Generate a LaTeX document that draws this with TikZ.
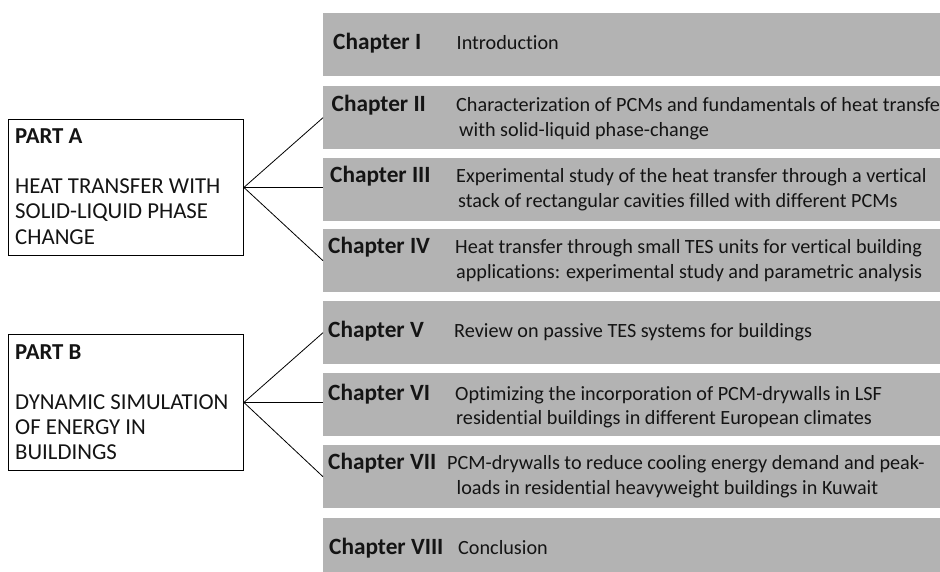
\documentclass[tikz,border=0pt]{standalone}
\usepackage{fontspec}
\setmainfont[Ligatures=NoCommon]{Carlito}
\definecolor{barfill}{RGB}{179,179,179}
\definecolor{inkdark}{RGB}{20,20,20}
\begin{document}
\begin{tikzpicture}[x=1pt,y=-1pt,
  bar/.style={fill=barfill, draw=none, inner sep=0pt, minimum width=630pt,
    minimum height=63pt, anchor=north west},
  partbox/.style={draw=black, line width=0.9pt, fill=white, inner sep=0pt,
    minimum width=235pt, minimum height=136pt, anchor=north west},
  chap/.style={anchor=base west, inner sep=0pt, text=inkdark,
    font=\fontsize{23.3}{25}\bfseries\selectfont},
  desc/.style={anchor=base west, inner sep=0pt, text=inkdark,
    font=\fontsize{20.2}{25}\selectfont},
  parthead/.style={anchor=base west, inner sep=0pt, text=inkdark,
    font=\fontsize{22.8}{25}\bfseries\selectfont},
  parttxt/.style={anchor=base west, inner sep=0pt, text=inkdark,
    font=\fontsize{22.8}{25}\selectfont},
  link/.style={draw=black, line width=0.8pt}]

\useasboundingbox (0,0) rectangle (940,572);
\clip (0,0) rectangle (940,572);

% chapter bars
\node[bar] (c1) at (323,13)  {};
\node[bar] (c2) at (323,86)  {};
\node[bar] (c3) at (323,158) {};
\node[bar] (c4) at (323,229) {};
\node[bar] (c5) at (323,301) {};
\node[bar] (c6) at (323,373) {};
\node[bar] (c7) at (323,445) {};
\node[bar] (c8) at (323,518) {};

% chapter labels and titles
\node[chap] (l1) at (333,50) {Chapter I};
\node[desc] (t1) at (456.5,50) {Introduction};

\node[chap] (l2) at (331.5,112) {Chapter II};
\node[desc] (t2a) at (456,112) {Characterization of PCMs and fundamentals of heat transfer};
\node[desc] (t2b) at (459,137) {with solid-liquid phase-change};

\node[chap] (l3) at (330,183) {Chapter III};
\node[desc] (t3a) at (456,183) {Experimental study of the heat transfer through a vertical};
\node[desc] (t3b) at (458,208) {stack of rectangular cavities filled with different PCMs};

\node[chap] (l4) at (328,254) {Chapter IV};
\node[desc] (t4a) at (455,254) {Heat transfer through small TES units for vertical building};
\node[desc] (t4b) at (456,279) {applications: experimental study and parametric analysis};

\node[chap] (l5) at (328,337.5) {Chapter V};
\node[desc] (t5) at (454,337.5) {Review on passive TES systems for buildings};

\node[chap] (l6) at (328,400) {Chapter VI};
\node[desc] (t6a) at (455,400) {Optimizing the incorporation of PCM-drywalls in LSF};
\node[desc] (t6b) at (456,424.5) {residential buildings in different European climates};

\node[chap] (l7) at (328,469.5) {Chapter VII};
\node[desc] (t7a) at (447,469.5) {PCM-drywalls to reduce cooling energy demand and peak-};
\node[desc] (t7b) at (456.5,494.5) {loads in residential heavyweight buildings in Kuwait};

\node[chap] (l8) at (329,554) {Chapter VIII};
\node[desc] (t8) at (458,554) {Conclusion};

% part boxes
\node[partbox] (pa) at (8,119) {};
\node[parthead] (pah) at (15,144) {PART A};
\node[parttxt] (pa1) at (15,194) {HEAT TRANSFER WITH};
\node[parttxt] (pa2) at (15,219) {SOLID-LIQUID PHASE};
\node[parttxt] (pa3) at (15,244) {CHANGE};

\node[partbox] (pb) at (8,334) {};
\node[parthead] (pbh) at (15,359) {PART B};
\node[parttxt] (pb1) at (15,409) {DYNAMIC SIMULATION};
\node[parttxt] (pb2) at (15,434) {OF ENERGY IN};
\node[parttxt] (pb3) at (15,459) {BUILDINGS};

% connectors from each part to its chapters
\draw[link] (pa.east) -- (c2.west);
\draw[link] (pa.east) -- (c3.west |- pa.east);
\draw[link] (pa.east) -- (c4.west);

\draw[link] (pb.east) -- (c5.west);
\draw[link] (pb.east) -- (c6.west |- pb.east);
\draw[link] (pb.east) -- (c7.west);
\end{tikzpicture}
\end{document}
